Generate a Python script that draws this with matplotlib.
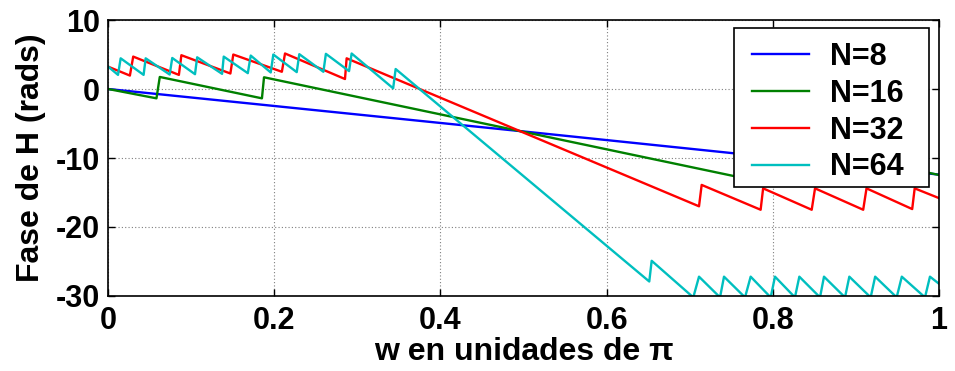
import matplotlib
matplotlib.use("Agg")
import matplotlib.pyplot as plt
from matplotlib.patches import Rectangle

plt.rcParams["font.family"] = ["Liberation Sans", "DejaVu Sans"]
plt.rcParams["font.weight"] = "bold"
plt.rcParams["axes.unicode_minus"] = False

# Phase curves (w in units of pi, phase in rad), listed as polyline vertices
w_n8 = [0.0, 0.5, 1.0]
p_n8 = [0.0, -6.15, -12.4]

w_n16 = [0.0, 0.058, 0.062, 0.185, 0.1875, 0.7526, 0.78, 0.783, 1.0]
p_n16 = [0.0, -1.35, 1.75, -1.35, 1.7, -12.6, -13.3, -7.05, -12.45]

w_n32 = [0.0, 0.026, 0.030, 0.085, 0.088, 0.147, 0.1505, 0.209, 0.2128,
         0.285, 0.287, 0.7113, 0.7145, 0.7855, 0.7885, 0.847, 0.851,
         0.909, 0.913, 0.968, 0.971, 1.0]
p_n32 = [3.23, 1.95, 4.7, 2.05, 4.9, 2.25, 5.0, 2.5, 5.15,
         1.45, 4.45, -17.0, -13.9, -17.5, -14.4, -17.5, -14.4,
         -17.5, -14.4, -17.4, -14.4, -15.8]

w_n64 = [0.0, 0.0117, 0.0149, 0.0425, 0.045, 0.0739, 0.077, 0.1044, 0.107,
         0.137, 0.139, 0.168, 0.1715, 0.1956, 0.1987, 0.2269, 0.23, 0.259,
         0.262, 0.2899, 0.293, 0.343, 0.346, 0.6514, 0.6543, 0.7044, 0.7113,
         0.7366, 0.7414, 0.7667, 0.7735, 0.7976, 0.8028, 0.8268, 0.8321,
         0.857, 0.8618, 0.8871, 0.8923, 0.918, 0.9234, 0.9493, 0.9555,
         0.9834, 0.9894, 1.0]
p_n64 = [3.23, 2.05, 4.45, 2.05, 4.45, 2.1, 4.5, 2.15, 4.6,
         2.2, 4.7, 2.3, 4.85, 2.4, 5.0, 2.45, 5.05, 2.5,
         5.1, 2.6, 5.15, 0.1, 2.9, -27.9, -24.9, -30.2, -27.2,
         -30.2, -27.2, -30.2, -27.2, -30.2, -27.2, -30.2, -27.2,
         -30.2, -27.2, -30.2, -27.2, -30.2, -27.2, -30.2, -27.2,
         -30.2, -27.2, -28.2]

labels = ["N=8", "N=16", "N=32", "N=64"]
colors = ["#0000ff", "#008000", "#ff0000", "#00bfbf"]

x_ticks = [0, 0.2, 0.4, 0.6, 0.8, 1]
x_ticklabels = ["0", "0.2", "0.4", "0.6", "0.8", "1"]
y_ticks = [-30, -20, -10, 0, 10]

fig = plt.figure(figsize=(9.55, 3.71), dpi=100)
ax = fig.add_axes([0.1134, 0.2022, 0.8696, 0.7438])

series = [(w_n8, p_n8), (w_n16, p_n16), (w_n32, p_n32), (w_n64, p_n64)]
for (w, p), lab, c in zip(series, labels, colors):
    ax.plot(w, p, color=c, lw=1.7, label=lab)

ax.set_xlim(0, 1)
ax.set_ylim(-30, 10)
ax.set_xticks(x_ticks)
ax.set_xticklabels(x_ticklabels)
ax.set_yticks(y_ticks)
ax.grid(True, color="#7f7f7f", linestyle=(0, (1, 2)), linewidth=0.8)
ax.tick_params(direction="in", top=True, right=True, length=5, width=1,
               labelsize=22)
ax.tick_params(axis="x", pad=7)
ax.tick_params(axis="y", pad=6)
for s in ax.spines.values():
    s.set_linewidth(1.2)

ax.set_xlabel("w en unidades de π", fontsize=23, fontweight="bold", labelpad=1)
ax.set_ylabel("Fase de H (rads)", fontsize=23, fontweight="bold", labelpad=7)

# legend box drawn as its own rectangle, entries placed inside it
box = Rectangle((0.7534, 0.395), 0.2346, 0.576, transform=ax.transAxes,
                facecolor="white", edgecolor="black", lw=1.2, zorder=4)
ax.add_patch(box)
leg = ax.legend(loc="upper left", bbox_to_anchor=(0.764, 0.953),
                borderaxespad=0, frameon=False, fontsize=22,
                handlelength=1.87, handletextpad=0.68, labelspacing=0.22,
                borderpad=0.3)
leg.set_zorder(5)
for t in leg.get_texts():
    t.set_fontweight("bold")

fig.savefig("out.png", dpi=100)
